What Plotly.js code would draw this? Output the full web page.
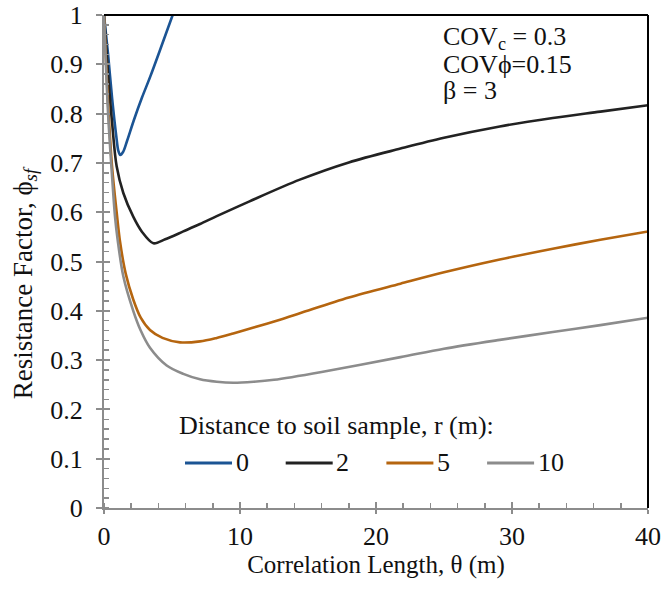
<!DOCTYPE html>
<html>
<head>
<meta charset="utf-8">
<script src="https://cdn.plot.ly/plotly-3.0.1.min.js"></script>
<style>html,body{margin:0;padding:0;background:#fff;}#chart{width:663px;height:589px;}</style>
</head>
<body>
<div id="chart"></div>
<script>
// Correlation length theta (m) and resistance factor phi_sf for each distance r
const theta_r0 = [0, 0.3, 0.6, 0.9, 1.05, 1.2, 1.4, 1.7, 2.2, 2.8, 3.4, 4.2, 5.05];
const phi_r0   = [1.0, 0.92, 0.83, 0.755, 0.725, 0.716, 0.722, 0.745, 0.787, 0.833, 0.875, 0.935, 1.0];

const theta_r2 = [0, 0.3, 0.6, 0.93, 1.42, 2.15, 2.8, 3.63, 4.5, 5.83, 7.06, 8.29, 10.7, 14.4, 18, 21.8, 25, 29.1, 33, 36.5, 40];
const phi_r2   = [1.0, 0.88, 0.78, 0.693, 0.639, 0.591, 0.56, 0.537, 0.545, 0.561, 0.576, 0.592, 0.622, 0.666, 0.701, 0.729, 0.751, 0.774, 0.791, 0.804, 0.817];

const theta_r5 = [0, 0.3, 0.6, 0.93, 1.18, 1.6, 2.15, 2.7, 3.38, 4.3, 5.59, 7.06, 8.29, 9.5, 11, 12.94, 14.4, 18, 21.8, 25, 29.1, 33, 36.5, 40];
const phi_r5   = [1.0, 0.82, 0.69, 0.60, 0.54, 0.475, 0.423, 0.386, 0.361, 0.345, 0.336, 0.338, 0.345, 0.354, 0.366, 0.382, 0.395, 0.427, 0.455, 0.478, 0.504, 0.526, 0.544, 0.561];

const theta_r10 = [0, 0.3, 0.6, 0.81, 1.0, 1.42, 2.15, 2.7, 3.38, 4.61, 5.83, 7.06, 8.29, 9.5, 11, 12.5, 16, 21.8, 25, 29.1, 33, 36.5, 40];
const phi_r10   = [1.0, 0.8, 0.67, 0.591, 0.545, 0.47, 0.40, 0.36, 0.325, 0.289, 0.272, 0.261, 0.256, 0.254, 0.256, 0.26, 0.276, 0.306, 0.323, 0.341, 0.357, 0.371, 0.386];

const seriesNames = ["0", "2", "5", "10"];
const seriesColors = ["#1b5494", "#222222", "#b5650f", "#8c8c8c"];
const legendTitle = "Distance to soil sample, r (m):";
const xTitle = "Correlation Length, θ (m)";
const yTitle = "Resistance Factor, ϕ<sub><i>sf</i></sub>";

const xTicks = [0, 10, 20, 30, 40];
const yTicks = [0, 0.1, 0.2, 0.3, 0.4, 0.5, 0.6, 0.7, 0.8, 0.9, 1];

const FONT = '"Liberation Serif", "Times New Roman", Times, serif';
const TXT = "#111";
const xs = [theta_r0, theta_r2, theta_r5, theta_r10];
const ys = [phi_r0, phi_r2, phi_r5, phi_r10];

const traces = xs.map((x, i) => ({
  x: x, y: ys[i], type: "scatter", mode: "lines", name: seriesNames[i],
  line: {color: seriesColors[i], width: 2.6, shape: "spline", smoothing: 0.9},
  showlegend: false, hoverinfo: "skip"
}));
// overlay axes so that major ticks cross the axis line
traces.push({x: [0], y: [0], xaxis: "x2", yaxis: "y2", mode: "markers",
  marker: {opacity: 0}, showlegend: false, hoverinfo: "skip"});

const axisGray = "#8c8c8c";

// legend drawn in paper coordinates
const legX0 = 0.1489, legStep = 0.1851, legLen = 0.0864, legY = 0.0913;
const shapes = [
  {type: "line", xref: "paper", yref: "paper", x0: 0, x1: 1, y0: 1, y1: 1, line: {color: "#000", width: 2}},
  {type: "line", xref: "paper", yref: "paper", x0: 1, x1: 1, y0: 0, y1: 1, line: {color: "#000", width: 2}}
];
const annotations = [
  {xref: "paper", yref: "paper", x: 0.134, y: 0.168, xanchor: "left", yanchor: "middle", showarrow: false,
   text: legendTitle, font: {family: FONT, size: 26, color: TXT}},
  {xref: "paper", yref: "paper", x: 0.6195, y: 0.953, xanchor: "left", yanchor: "middle", showarrow: false,
   text: "COV<sub>c</sub> = 0.3", font: {family: FONT, size: 26, color: TXT}},
  {xref: "paper", yref: "paper", x: 0.6195, y: 0.899, xanchor: "left", yanchor: "middle", showarrow: false,
   text: "COVϕ=0.15", font: {family: FONT, size: 26, color: TXT}},
  {xref: "paper", yref: "paper", x: 0.6195, y: 0.846, xanchor: "left", yanchor: "middle", showarrow: false,
   text: "β = 3", font: {family: FONT, size: 26, color: TXT}},
  {xref: "paper", yref: "paper", x: -0.1452, y: 0.456, xanchor: "center", yanchor: "middle", showarrow: false,
   textangle: -90, text: yTitle, font: {family: FONT, size: 27, color: TXT}}
];
seriesNames.forEach((nm, i) => {
  const x0 = legX0 + i * legStep;
  shapes.push({type: "line", xref: "paper", yref: "paper", x0: x0, x1: x0 + legLen, y0: legY, y1: legY,
    line: {color: seriesColors[i], width: 3}});
  annotations.push({xref: "paper", yref: "paper", x: x0 + legLen + 0.003, y: legY, xanchor: "left", yanchor: "middle",
    showarrow: false, text: nm, font: {family: FONT, size: 26, color: TXT}});
});

const layout = {
  width: 663, height: 589,
  margin: {l: 104, r: 15, t: 15, b: 81},
  paper_bgcolor: "#fff", plot_bgcolor: "#fff",
  font: {family: FONT, size: 25, color: TXT},
  showlegend: false,
  xaxis: {
    range: [0, 40], tickvals: xTicks, ticktext: xTicks.map(String),
    showgrid: false, zeroline: false, showline: true, linecolor: axisGray, linewidth: 2,
    ticks: "outside", ticklen: 4, tickwidth: 2, tickcolor: axisGray,
    minor: {dtick: 2, ticks: "inside", ticklen: 5, tickwidth: 1.5, tickcolor: axisGray, showgrid: false},
    tickfont: {family: FONT, size: 26, color: TXT}, ticklabelstandoff: 0,
    title: {text: xTitle, font: {family: FONT, size: 25, color: TXT}, standoff: 1},
    fixedrange: true
  },
  yaxis: {
    range: [0, 1], tickvals: yTicks, ticktext: yTicks.map(v => String(v)),
    showgrid: false, zeroline: false, showline: true, linecolor: axisGray, linewidth: 2,
    ticks: "outside", ticklen: 6, tickwidth: 2, tickcolor: axisGray,
    minor: {dtick: 0.02, ticks: "inside", ticklen: 5, tickwidth: 1.5, tickcolor: axisGray, showgrid: false},
    tickfont: {family: FONT, size: 26, color: TXT}, ticklabelstandoff: 8,
    fixedrange: true
  },
  xaxis2: {overlaying: "x", range: [0, 40], tickvals: xTicks, showticklabels: false, ticks: "inside",
    ticklen: 6, tickwidth: 2, tickcolor: axisGray, showgrid: false, zeroline: false, showline: false, fixedrange: true},
  yaxis2: {overlaying: "y", range: [0, 1], tickvals: yTicks, showticklabels: false, ticks: "inside",
    ticklen: 6, tickwidth: 2, tickcolor: axisGray, showgrid: false, zeroline: false, showline: false, fixedrange: true},
  shapes: shapes,
  annotations: annotations
};

Plotly.newPlot("chart", traces, layout, {displayModeBar: false, staticPlot: true});
</script>
</body>
</html>
